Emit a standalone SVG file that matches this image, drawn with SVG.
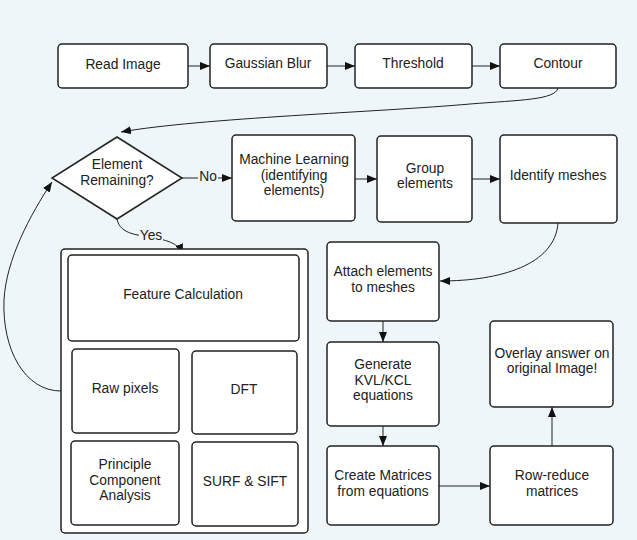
<svg xmlns="http://www.w3.org/2000/svg" width="637" height="540" viewBox="0 0 637 540">
<style>
.box{fill:#fff;stroke:#222;stroke-width:1.5}
.t{font-family:"Liberation Sans",Arial,sans-serif;font-size:13.8px;fill:#222;text-anchor:middle;dominant-baseline:middle}
.c{fill:none;stroke:#222;stroke-width:1}
</style>
<defs>
<marker id="ah" viewBox="0 0 10 8" refX="10" refY="4" markerWidth="10" markerHeight="8" markerUnits="userSpaceOnUse" orient="auto">
<path d="M0,0 L10,4 L0,8 Z" fill="#111"/>
</marker>
</defs>
<rect width="637" height="540" fill="#eef6fa"/>
<g id="connectors">
<path class="c" d="M188,66 L210,66" marker-end="url(#ah)"/>
<path class="c" d="M327,66 L355,66" marker-end="url(#ah)"/>
<path class="c" d="M472,66 L500,66" marker-end="url(#ah)"/>
<path class="c" d="M558,88 C555,100 520,100 470,104 C380,112 200,118 121,132" marker-end="url(#ah)"/>
<path class="c" d="M182,178 L232,178" marker-end="url(#ah)"/>
<path class="c" d="M355,179 L377,179" marker-end="url(#ah)"/>
<path class="c" d="M472,179 L500,179" marker-end="url(#ah)"/>
<path class="c" d="M117,219 C120,235 140,235 150,237 C165,240 178,242 183,254" marker-end="url(#ah)"/>
<path class="c" d="M558,223 C555,265 500,281 440,281" marker-end="url(#ah)"/>
<path class="c" d="M383,321 L383,342" marker-end="url(#ah)"/>
<path class="c" d="M383,426 L383,446" marker-end="url(#ah)"/>
<path class="c" d="M439,486 L490,486" marker-end="url(#ah)"/>
<path class="c" d="M552,446 L552,407" marker-end="url(#ah)"/>
<path class="c" d="M61,391 C25,391 2,350 4,300 C6,260 30,215 52,182" marker-end="url(#ah)"/>
<rect x="198" y="171" width="20" height="14" fill="#eef6fa"/>
<text class="t" x="208" y="177">No</text>
<rect x="139" y="230" width="24" height="14" fill="#eef6fa"/>
<text class="t" x="151" y="236">Yes</text>
</g>
<g id="read-image"><rect class="box" x="58" y="44" width="130" height="44" rx="4"/><text class="t" x="123" y="65">Read Image</text></g>
<g id="gaussian-blur"><rect class="box" x="210" y="44" width="117" height="44" rx="4"/><text class="t" x="268" y="64">Gaussian Blur</text></g>
<g id="threshold"><rect class="box" x="355" y="44" width="117" height="44" rx="4"/><text class="t" x="413" y="64">Threshold</text></g>
<g id="contour"><rect class="box" x="500" y="44" width="116" height="44" rx="4"/><text class="t" x="558" y="64">Contour</text></g>
<g id="element-remaining"><path class="box" d="M117,137 L182,178 L117,219 L52,178 Z"/><text class="t" x="117" y="165">Element</text><text class="t" x="117" y="181">Remaining?</text></g>
<g id="machine-learning"><rect class="box" x="232" y="135" width="123" height="86" rx="4"/><text class="t" x="294" y="160">Machine Learning</text><text class="t" x="294" y="176">(identifying</text><text class="t" x="294" y="191">elements)</text></g>
<g id="group-elements"><rect class="box" x="377" y="136" width="95" height="86" rx="4"/><text class="t" x="425" y="169">Group</text><text class="t" x="425" y="184">elements</text></g>
<g id="identify-meshes"><rect class="box" x="500" y="135" width="117" height="88" rx="4"/><text class="t" x="558" y="176">Identify meshes</text></g>
<g id="feature-container"><rect class="box" x="61" y="249" width="247" height="284" rx="4"/></g>
<g id="feature-calculation"><rect class="box" x="68" y="255" width="231" height="86" rx="4"/><text class="t" x="183" y="295">Feature Calculation</text></g>
<g id="raw-pixels"><rect class="box" x="72" y="349" width="107" height="84" rx="4"/><text class="t" x="125" y="389">Raw pixels</text></g>
<g id="dft"><rect class="box" x="192" y="351" width="105" height="83" rx="4"/><text class="t" x="244" y="390">DFT</text></g>
<g id="pca"><rect class="box" x="71" y="441" width="108" height="84" rx="4"/><text class="t" x="125" y="465">Principle</text><text class="t" x="125" y="481">Component</text><text class="t" x="125" y="496">Analysis</text></g>
<g id="surf-sift"><rect class="box" x="192" y="442" width="106" height="84" rx="4"/><text class="t" x="245" y="482">SURF &amp; SIFT</text></g>
<g id="attach"><rect class="box" x="327" y="242" width="112" height="79" rx="4"/><text class="t" x="383" y="272">Attach elements</text><text class="t" x="383" y="288">to meshes</text></g>
<g id="generate"><rect class="box" x="327" y="342" width="112" height="84" rx="4"/><text class="t" x="383" y="365">Generate</text><text class="t" x="383" y="381">KVL/KCL</text><text class="t" x="383" y="396">equations</text></g>
<g id="create-matrices"><rect class="box" x="327" y="446" width="112" height="79" rx="4"/><text class="t" x="383" y="476">Create Matrices</text><text class="t" x="383" y="492">from equations</text></g>
<g id="row-reduce"><rect class="box" x="490" y="446" width="123" height="79" rx="4"/><text class="t" x="552" y="476">Row-reduce</text><text class="t" x="552" y="492">matrices</text></g>
<g id="overlay"><rect class="box" x="490" y="321" width="123" height="86" rx="4"/><text class="t" x="552" y="354">Overlay answer on</text><text class="t" x="552" y="369">original Image!</text></g>
</svg>
